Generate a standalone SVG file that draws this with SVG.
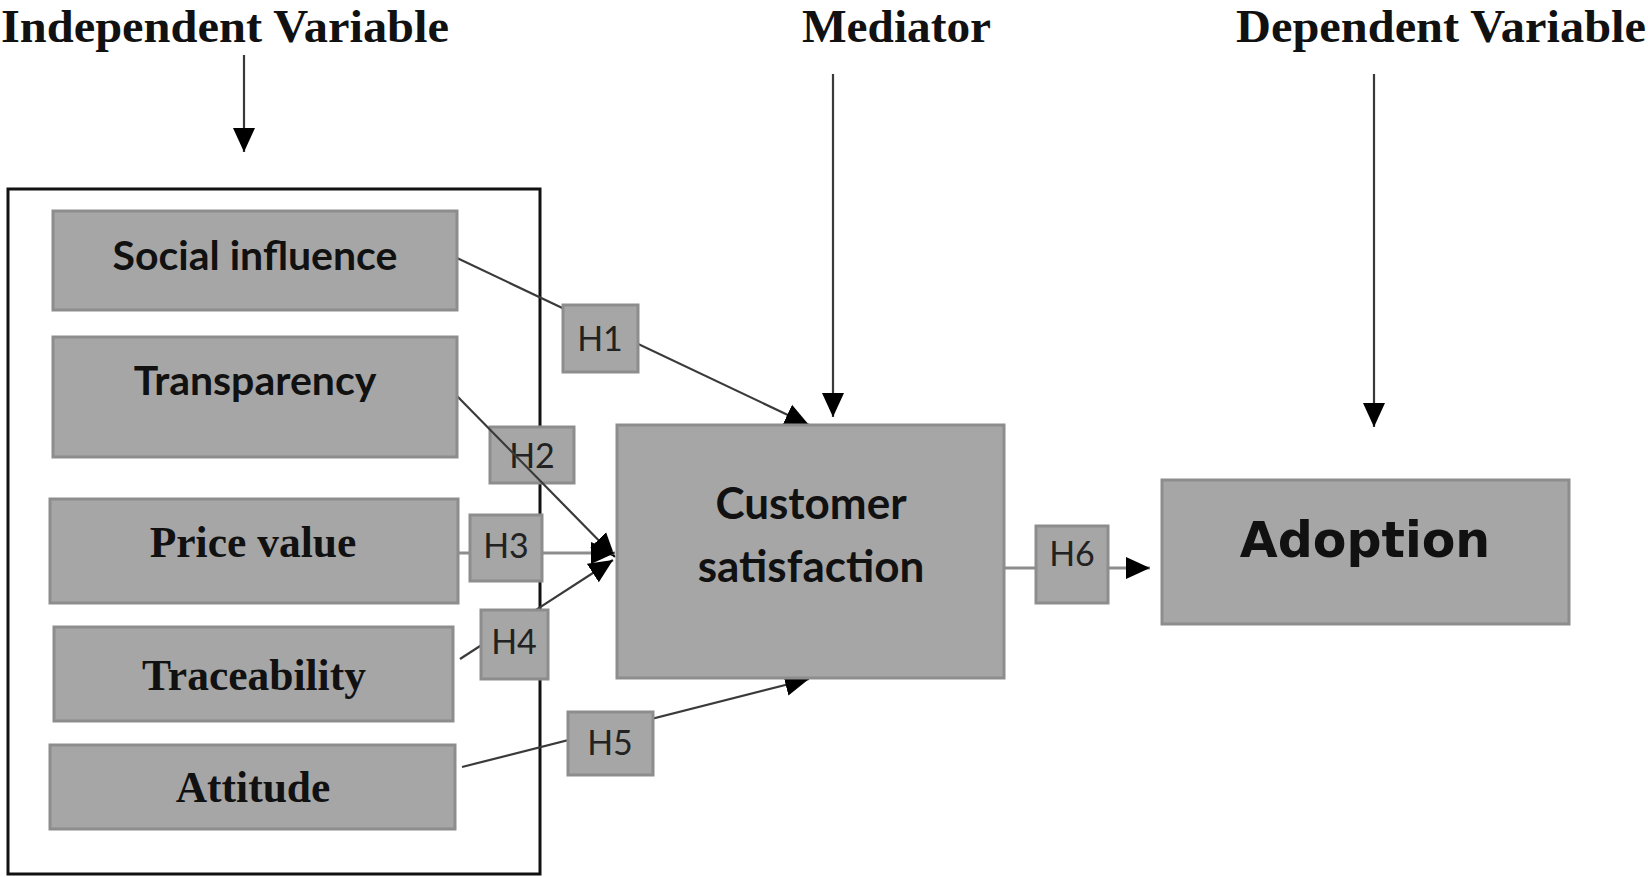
<svg xmlns="http://www.w3.org/2000/svg" width="1648" height="877" viewBox="0 0 1648 877">
<style>
.hdr{font-family:"Liberation Serif","Times New Roman",serif;font-weight:bold;font-size:46px;fill:#111}
.box{fill:#a6a6a6;stroke:#8d8d8d;stroke-width:3}
.cal{font-family:Lato,"Open Sans",sans-serif;font-weight:bold;fill:#111;text-anchor:middle}
.tms{font-family:"Liberation Serif","Times New Roman",serif;font-weight:bold;font-size:43.5px;fill:#111;text-anchor:middle}
.h{font-family:Lato,"Open Sans",sans-serif;font-size:34px;fill:#222;text-anchor:middle}
.ln{stroke:#3a3a3a;stroke-width:2.2;fill:none}
.gl{stroke:#8d8d8d;stroke-width:3;fill:none}
</style>
<defs>
<marker id="ah" markerUnits="userSpaceOnUse" markerWidth="26" markerHeight="24" refX="24" refY="12" orient="auto">
<path d="M0,1 L24,12 L0,23 Z" fill="#000"/>
</marker>
</defs>
<rect width="1648" height="877" fill="#fff"/>

<g id="labels">
<text class="hdr" x="1" y="42" textLength="448" lengthAdjust="spacingAndGlyphs">Independent Variable</text>
<text class="hdr" x="802" y="42" textLength="189" lengthAdjust="spacingAndGlyphs">Mediator</text>
<text class="hdr" x="1236" y="42" textLength="410" lengthAdjust="spacingAndGlyphs">Dependent Variable</text>
</g>

<g id="frame"><rect x="8" y="189" width="532" height="685" fill="none" stroke="#111" stroke-width="3"/></g>

<g id="H2"><rect class="box" x="490" y="427" width="84" height="56"/><text class="h" x="532" y="468">H2</text></g>

<g id="connectors">
<line class="ln" x1="244" y1="55" x2="244" y2="152" marker-end="url(#ah)"/>
<line class="ln" x1="833" y1="74" x2="833" y2="417" marker-end="url(#ah)"/>
<line class="ln" x1="1374" y1="74" x2="1374" y2="427" marker-end="url(#ah)"/>
<line class="ln" x1="457" y1="258" x2="809" y2="425" marker-end="url(#ah)"/>
<line class="ln" x1="457" y1="396" x2="615" y2="557" marker-end="url(#ah)"/>
<line class="gl" x1="458" y1="553" x2="615" y2="553" marker-end="url(#ah)"/>
<line class="ln" x1="460" y1="659" x2="613" y2="560" marker-end="url(#ah)"/>
<line class="ln" x1="462" y1="767" x2="809" y2="679" marker-end="url(#ah)"/>
<line class="gl" x1="1004" y1="568" x2="1150" y2="568" marker-end="url(#ah)"/>
</g>

<g id="social"><rect class="box" x="53" y="211" width="404" height="99"/><text class="cal" x="255" y="270" font-size="41">Social influence</text></g>
<g id="transparency"><rect class="box" x="53" y="337" width="404" height="120"/><text class="cal" x="255" y="395" font-size="41">Transparency</text></g>
<g id="price"><rect class="box" x="50" y="499" width="408" height="104"/><text class="tms" x="253" y="557">Price value</text></g>
<g id="traceability"><rect class="box" x="54" y="627" width="399" height="94"/><text class="tms" x="254" y="690">Traceability</text></g>
<g id="attitude"><rect class="box" x="50" y="745" width="405" height="84"/><text class="tms" x="253" y="802">Attitude</text></g>

<g id="H1"><rect class="box" x="563" y="305" width="75" height="67"/><text class="h" x="600" y="351">H1</text></g>
<g id="H3"><rect class="box" x="470" y="515" width="72" height="66"/><text class="h" x="506" y="558">H3</text></g>
<g id="H4"><rect class="box" x="481" y="610" width="67" height="69"/><text class="h" x="514" y="654">H4</text></g>
<g id="H5"><rect class="box" x="568" y="712" width="85" height="63"/><text class="h" x="610" y="755">H5</text></g>
<g id="H6"><rect class="box" x="1036" y="526" width="72" height="77"/><text class="h" x="1072" y="566">H6</text></g>

<g id="customer"><rect class="box" x="617" y="425" width="387" height="253"/>
<text class="cal" x="811" y="519" font-size="44">Customer</text>
<text class="cal" x="811" y="582" font-size="44">satisfaction</text></g>

<g id="adoption"><rect class="box" x="1162" y="480" width="407" height="144"/>
<text x="1365" y="557" text-anchor="middle" font-family="'DejaVu Sans',Verdana,sans-serif" font-weight="bold" font-size="49" fill="#111">Adoption</text></g>
</svg>
